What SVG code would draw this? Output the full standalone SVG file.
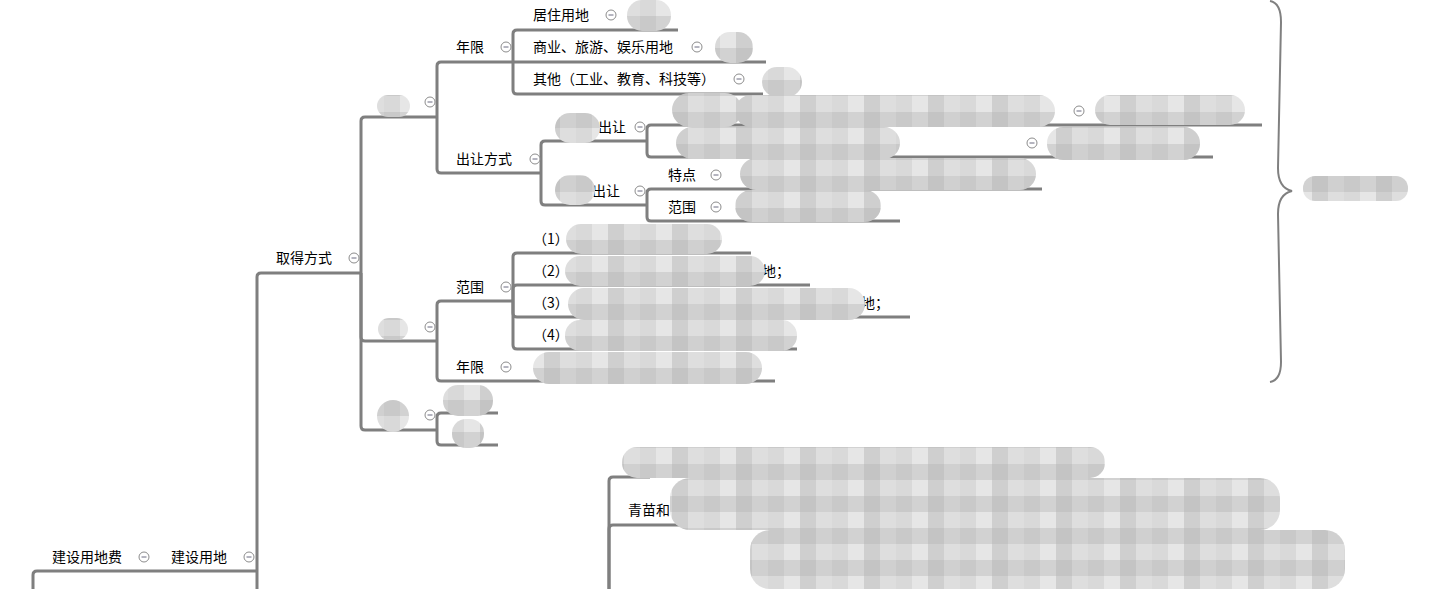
<svg xmlns="http://www.w3.org/2000/svg" width="1429" height="589" viewBox="0 0 1429 589">
<style>
.t{font-family:"Noto Sans CJK SC","Liberation Sans",sans-serif;font-size:14px;fill:#000}
.c{fill:none;stroke:#7f7f7f;stroke-width:3;stroke-linecap:butt}
.b{fill:url(#pix)}
.br{fill:none;stroke:#808080;stroke-width:2}
</style>
<defs>
<pattern id="pix" width="64" height="32" patternUnits="userSpaceOnUse">
<rect width="16" height="16" fill="#d9d9d9"/><rect x="16" width="16" height="16" fill="#e6e6e6"/><rect x="32" width="16" height="16" fill="#cfcfcf"/><rect x="48" width="16" height="16" fill="#dedede"/>
<rect y="16" width="16" height="16" fill="#c9c9c9"/><rect x="16" y="16" width="16" height="16" fill="#d2d2d2"/><rect x="32" y="16" width="16" height="16" fill="#c4c4c4"/><rect x="48" y="16" width="16" height="16" fill="#d0d0d0"/>
</pattern>
<g id="m"><circle r="5" fill="#fff" stroke="#8c8c8c" stroke-width="1"/><path d="M-2.5 0H2.5" stroke="#6b6b80" stroke-width="1"/></g>
</defs>
<rect width="1429" height="589" fill="#fff"/>
<g id="connectors">
<path class="c" d="M33 589V575Q33 571 37 571H257"/>
<path class="c" d="M257 589V571"/>
<path class="c" d="M257 571V277Q257 273 261 273H361"/>
<path class="c" d="M361 273V121Q361 117 365 117H437"/>
<path class="c" d="M361 273V337Q361 341 365 341H437"/>
<path class="c" d="M361 273V426Q361 430 365 430H437"/>
<path class="c" d="M437 117V66Q437 62 441 62H513"/>
<path class="c" d="M437 117V169Q437 173 441 173H541"/>
<path class="c" d="M513 62V34Q513 30 517 30H678"/>
<path class="c" d="M513 62H766"/>
<path class="c" d="M513 62V90Q513 94 517 94H763"/>
<path class="c" d="M541 173V145Q541 141 545 141H647"/>
<path class="c" d="M541 173V201Q541 205 545 205H647"/>
<path class="c" d="M647 141V129Q647 125 651 125H1262"/>
<path class="c" d="M647 141V153Q647 157 651 157H1213"/>
<path class="c" d="M647 205V193Q647 189 651 189H1042"/>
<path class="c" d="M647 205V217Q647 221 651 221H900"/>
<path class="c" d="M437 341V305Q437 301 441 301H513"/>
<path class="c" d="M437 341V377Q437 381 441 381H775"/>
<path class="c" d="M513 301V257Q513 253 517 253H751"/>
<path class="c" d="M513 301V289Q513 285 517 285H810"/>
<path class="c" d="M513 301V313Q513 317 517 317H910"/>
<path class="c" d="M513 301V345Q513 349 517 349H797"/>
<path class="c" d="M437 430V417Q437 413 441 413H498"/>
<path class="c" d="M437 430V441Q437 445 441 445H498"/>
<path class="c" d="M609 589V481Q609 477 613 477H650"/>
<path class="c" d="M609 589V529Q609 525 613 525H700"/>
<path class="c" d="M1271 589V578"/>
<path class="br" d="M1270 1Q1281 3 1281 22L1278 168Q1278 188 1292 191Q1278 194 1278 214L1281 362Q1281 380 1270 382"/>
</g>
<g id="n-root"><text class="t" x="52" y="562">建设用地费</text><use href="#m" x="144" y="557"/></g>
<g id="n-jsyd"><text class="t" x="171" y="562">建设用地</text><use href="#m" x="249" y="557"/></g>
<g id="n-qdfs"><text class="t" x="276" y="263">取得方式</text><use href="#m" x="354" y="258"/></g>
<g id="n-c1"><rect class="b" x="377" y="95" width="33" height="22" rx="11"/><use href="#m" x="430" y="102"/></g>
<g id="n-nx1"><text class="t" x="456" y="52">年限</text><use href="#m" x="506" y="47"/></g>
<g id="n-jz"><text class="t" x="533" y="20">居住用地</text><use href="#m" x="611" y="15"/><rect class="b" x="627" y="0" width="44" height="31" rx="15"/></g>
<g id="n-sy"><text class="t" x="533" y="52">商业、旅游、娱乐用地</text><use href="#m" x="697" y="47"/><rect class="b" x="715" y="32" width="38" height="31" rx="15"/></g>
<g id="n-qt"><text class="t" x="533" y="84">其他（工业、教育、科技等）</text><use href="#m" x="739" y="79"/><rect class="b" x="762" y="67" width="40" height="30" rx="15"/></g>
<g id="n-crfs"><text class="t" x="456" y="164">出让方式</text><use href="#m" x="535" y="159"/></g>
<g id="n-cr1"><text class="t" x="598" y="132">出让</text><rect class="b" x="555" y="113" width="45" height="30" rx="15"/><use href="#m" x="640" y="127"/></g>
<g id="n-cr1a"><rect class="b" x="672" y="93" width="70" height="34" rx="17"/><rect class="b" x="735" y="95" width="320" height="32" rx="16"/><use href="#m" x="1079" y="111"/><rect class="b" x="1095" y="95" width="150" height="30" rx="15"/></g>
<g id="n-cr1b"><rect class="b" x="676" y="127" width="224" height="32" rx="16"/><use href="#m" x="1032" y="143"/><rect class="b" x="1047" y="127" width="153" height="33" rx="16"/></g>
<g id="n-cr2"><text class="t" x="592" y="196">出让</text><rect class="b" x="555" y="175" width="40" height="30" rx="15"/><use href="#m" x="640" y="191"/></g>
<g id="n-td"><text class="t" x="668" y="180">特点</text><use href="#m" x="716" y="175"/><rect class="b" x="740" y="158" width="296" height="32" rx="16"/></g>
<g id="n-fw1"><text class="t" x="668" y="212">范围</text><use href="#m" x="716" y="207"/><rect class="b" x="735" y="190" width="146" height="32" rx="16"/></g>
<g id="n-c2"><rect class="b" x="378" y="318" width="30" height="22" rx="11"/><use href="#m" x="430" y="327"/></g>
<g id="n-fw2"><text class="t" x="456" y="292">范围</text><use href="#m" x="506" y="287"/></g>
<g id="n-i1"><text class="t" x="533" y="244">（1）</text><rect class="b" x="566" y="224" width="156" height="30" rx="15"/></g>
<g id="n-i2"><text class="t" x="533" y="276">（2）</text><text class="t" x="762" y="276">地；</text><rect class="b" x="565" y="256" width="200" height="30" rx="15"/></g>
<g id="n-i3"><text class="t" x="533" y="308">（3）</text><text class="t" x="861" y="308">地；</text><rect class="b" x="568" y="288" width="297" height="32" rx="16"/></g>
<g id="n-i4"><text class="t" x="533" y="340">（4）</text><rect class="b" x="565" y="320" width="232" height="31" rx="15"/></g>
<g id="n-nx2"><text class="t" x="456" y="372">年限</text><use href="#m" x="506" y="367"/><rect class="b" x="533" y="352" width="229" height="32" rx="16"/></g>
<g id="n-c3"><rect class="b" x="377" y="400" width="32" height="32" rx="16"/><use href="#m" x="430" y="415"/></g>
<g id="n-c3a"><rect class="b" x="443" y="385" width="50" height="31" rx="15"/></g>
<g id="n-c3b"><rect class="b" x="452" y="419" width="32" height="29" rx="14"/></g>
<g id="n-brace"><rect class="b" x="1303" y="176" width="105" height="25" rx="12"/></g>
<g id="n-bottom">
<rect class="b" x="622" y="447" width="483" height="31" rx="15"/>
<text class="t" x="628" y="515">青苗和</text>
<rect class="b" x="670" y="478" width="610" height="52" rx="20"/>
<rect class="b" x="750" y="530" width="595" height="59" rx="20"/>
</g>
</svg>
